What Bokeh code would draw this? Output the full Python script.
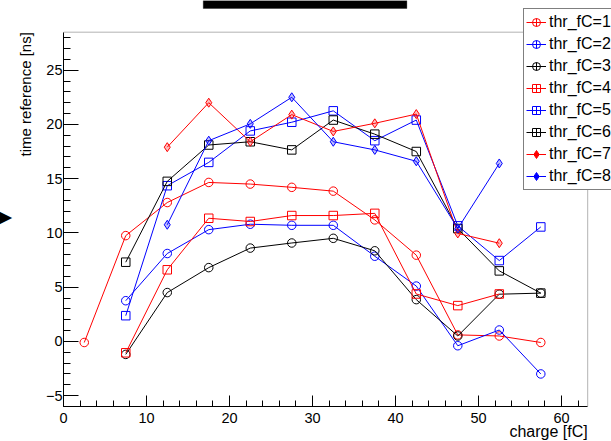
import math
from bokeh.plotting import figure
from bokeh.models import (Range1d, FixedTicker, Legend, LegendItem, BoxAnnotation, Title,
                          ColumnDataSource)
from bokeh.embed import file_html
from bokeh.resources import INLINE

# ---- data ----
charge_1 = [2.5, 7.5, 12.5, 17.5, 22.5, 27.5, 32.5, 37.5, 42.5, 47.5, 52.5, 57.5]
time_1 = [-0.1, 9.75, 12.8, 14.65, 14.5, 14.2, 13.85, 11.2, 7.95, 0.6, 0.5, -0.1]

charge_2 = [7.5, 12.5, 17.5, 22.5, 27.5, 32.5, 37.5, 42.5, 47.5, 52.5, 57.5]
time_2 = [3.75, 8.1, 10.3, 10.8, 10.7, 10.7, 7.85, 5.1, -0.4, 1.05, -3.0]

charge_3 = [7.5, 12.5, 17.5, 22.5, 27.5, 32.5, 37.5, 42.5, 47.5, 52.5, 57.5]
time_3 = [-1.2, 4.5, 6.8, 8.6, 9.07, 9.5, 8.35, 3.85, 0.5, 4.35, 4.45]

charge_4 = [7.5, 12.5, 17.5, 22.5, 27.5, 32.5, 37.5, 42.5, 47.5, 52.5]
time_4 = [-1.05, 6.6, 11.35, 11.05, 11.6, 11.6, 11.8, 4.37, 3.3, 4.37]

charge_5 = [7.5, 12.5, 17.5, 22.5, 27.5, 32.5, 37.5, 42.5, 47.5, 52.5, 57.5]
time_5 = [2.37, 14.35, 16.5, 19.4, 20.2, 21.25, 18.5, 20.4, 10.65, 7.45, 10.55]

charge_6 = [7.5, 12.5, 17.5, 22.5, 27.5, 32.5, 37.5, 42.5, 47.5, 52.5, 57.5]
time_6 = [7.3, 14.75, 18.1, 18.4, 17.65, 20.4, 19.1, 17.5, 10.4, 6.5, 4.45]

charge_7 = [12.5, 17.5, 22.5, 27.5, 32.5, 37.5, 42.5, 47.5, 52.5]
time_7 = [17.9, 22.0, 18.4, 20.9, 19.35, 20.1, 20.95, 9.95, 9.05]

charge_8 = [12.5, 17.5, 22.5, 27.5, 32.5, 37.5, 42.5, 47.5, 52.5]
time_8 = [10.75, 18.5, 20.05, 22.5, 18.4, 17.65, 16.6, 10.4, 16.4]

series_names = ["thr_fC=1", "thr_fC=2", "thr_fC=3", "thr_fC=4",
                "thr_fC=5", "thr_fC=6", "thr_fC=7", "thr_fC=8"]
series_x = [charge_1, charge_2, charge_3, charge_4, charge_5, charge_6, charge_7, charge_8]
series_y = [time_1, time_2, time_3, time_4, time_5, time_6, time_7, time_8]

x_major_ticks = [0, 10, 20, 30, 40, 50, 60]
y_major_ticks = [-5, 0, 5, 10, 15, 20, 25]
x_axis_range = (0.0, 63.15)
y_axis_range = (-6.0, 28.5)
x_title = "charge [fC]"
y_title = "time reference [ns]"

# ---- styles ----
colors = ["#ff0000", "#0000ff", "#000000", "#ff0000", "#0000ff", "#000000", "#ff0000", "#0000ff"]
markers = ["circle", "circle", "circle", "square", "square", "square", "diamond", "diamond"]
legend_markers = ["circle_cross", "circle_cross", "circle_cross", "square_cross",
                  "square_cross", "square_cross", "diamond", "diamond"]
FONT = "Liberation Sans"

W, H = 611, 441
LEFT, BOTTOM = 62, 35
PX_X = 8.316   # pixels per fC
PX_Y = 10.85   # pixels per ns
frame_w = W - LEFT
frame_h = H - BOTTOM

p = figure(width=W, height=H, output_backend="svg", toolbar_location=None,
           x_range=Range1d(x_axis_range[0], x_axis_range[0] + frame_w / PX_X),
           y_range=Range1d(y_axis_range[0], y_axis_range[0] + frame_h / PX_Y),
           min_border_left=LEFT, min_border_right=0, min_border_top=0, min_border_bottom=BOTTOM,
           title=None)
p.background_fill_color = "white"
p.border_fill_color = "white"
p.outline_line_color = None
p.xgrid.visible = False
p.ygrid.visible = False

# axes in ROOT style (ticks inside), limited to the drawn frame
p.xaxis.ticker = FixedTicker(ticks=x_major_ticks, minor_ticks=[v for v in range(0, 64, 2)])
p.yaxis.ticker = FixedTicker(ticks=y_major_ticks, minor_ticks=[v for v in range(-6, 29)])
p.xaxis.bounds = x_axis_range
p.yaxis.bounds = y_axis_range
for ax, maj, mnr in ((p.xaxis, 11, 6), (p.yaxis, 15, 7)):
    ax.major_tick_in = maj
    ax.major_tick_out = 0
    ax.minor_tick_in = mnr
    ax.minor_tick_out = 0
    ax.axis_line_color = "black"
    ax.major_tick_line_color = "black"
    ax.minor_tick_line_color = "black"
    ax.major_label_text_font = FONT
    ax.major_label_text_font_size = "14.5px"
    ax.major_label_text_color = "black"
p.xaxis.major_label_standoff = 6
p.yaxis.major_label_standoff = 1
p.yaxis.major_label_orientation = "horizontal"

# axis titles, ROOT style (aligned with the ends of the axes)
p.add_layout(Title(text=x_title, align="right", offset=frame_w - PX_X * x_axis_range[1],
                   vertical_align="top", standoff=-5,
                   text_font=FONT, text_font_size="16px", text_font_style="normal",
                   text_color="black"), "below")
p.add_layout(Title(text=y_title, align="right",
                   offset=frame_h - PX_Y * (y_axis_range[1] - y_axis_range[0]),
                   vertical_align="bottom", standoff=17,
                   text_font=FONT, text_font_size="15px", text_font_style="normal",
                   text_color="black"), "left")
# small arrow marker at the left edge (drawn rotated by the left panel)
p.add_layout(Title(text="▼", align="right", offset=211, vertical_align="middle", standoff=-16,
                   text_font="DejaVu Sans", text_font_size="17px", text_color="black"), "left")

# the ROOT frame box
p.add_layout(BoxAnnotation(left=x_axis_range[0], right=x_axis_range[1],
                           bottom=y_axis_range[0], top=y_axis_range[1],
                           fill_alpha=0, line_color="black", line_width=1, level="underlay"))

items = []
for i in range(8):
    c = colors[i]
    ln = p.line(series_x[i], series_y[i], line_color=c, line_width=1)
    if markers[i] == "diamond":
        p.scatter(series_x[i], series_y[i], marker="diamond", size=9,
                  line_color=c, fill_color=c, fill_alpha=0.25, line_width=1)
    else:
        p.scatter(series_x[i], series_y[i], marker=markers[i], size=8.5,
                  line_color=c, fill_color=None, line_width=1)
    # legend-only glyphs (no visible points: y is NaN)
    dummy = ColumnDataSource(dict(x=series_x[i], y=[float("nan")] * len(series_x[i])))
    if markers[i] == "diamond":
        vb = p.scatter("x", "y", source=dummy, marker="dash", angle=math.pi / 2, size=14,
                       line_color=c, line_width=1)
        lg = p.scatter("x", "y", source=dummy, marker="diamond", size=11,
                       line_color=c, fill_color=c, line_width=1)
        items.append(LegendItem(label=series_names[i], renderers=[ln, vb, lg]))
    else:
        lg = p.scatter("x", "y", source=dummy, marker=legend_markers[i], size=9,
                       line_color=c, fill_color=None, line_width=1)
        items.append(LegendItem(label=series_names[i], renderers=[ln, lg]))

legend = Legend(items=items, location=(460, 216), orientation="vertical",
                border_line_color="black", border_line_width=1,
                background_fill_color="white", background_fill_alpha=1,
                label_text_font=FONT, label_text_font_size="16px", label_text_color="black",
                glyph_width=20, glyph_height=22, label_height=22, label_standoff=3,
                padding=2, spacing=0, margin=0)
p.add_layout(legend)

# black title box at the top of the canvas
p.add_layout(BoxAnnotation(left=(202 - LEFT) / PX_X, right=(406 - LEFT) / PX_X,
                           top=y_axis_range[0] + frame_h / PX_Y,
                           bottom=y_axis_range[0] + (frame_h - 8) / PX_Y,
                           fill_color="black", fill_alpha=1, line_color="black"))

open("out.html", "w").write(file_html(p, INLINE))
